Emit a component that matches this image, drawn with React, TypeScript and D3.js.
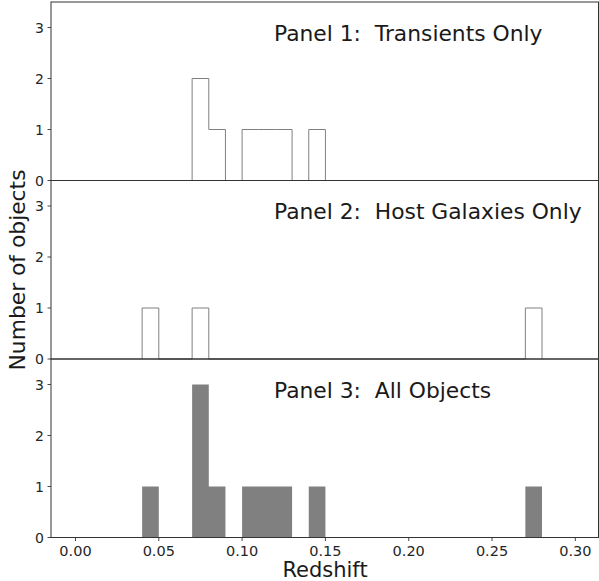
import React from "react";
import * as d3 from "d3";

const binEdges = [0.04, 0.05, 0.06, 0.07, 0.08, 0.09, 0.10, 0.11, 0.12, 0.13, 0.14, 0.15, 0.16, 0.17, 0.18, 0.19, 0.20, 0.21, 0.22, 0.23, 0.24, 0.25, 0.26, 0.27, 0.28];
const transientCounts = [0, 0, 0, 2, 1, 0, 1, 1, 1, 0, 1, 0, 0, 0, 0, 0, 0, 0, 0, 0, 0, 0, 0, 0];
const hostCounts = [1, 0, 0, 1, 0, 0, 0, 0, 0, 0, 0, 0, 0, 0, 0, 0, 0, 0, 0, 0, 0, 0, 0, 1];
const allCounts = [1, 0, 0, 3, 1, 0, 1, 1, 1, 0, 1, 0, 0, 0, 0, 0, 0, 0, 0, 0, 0, 0, 0, 1];
const panelTitles = ["Panel 1:  Transients Only", "Panel 2:  Host Galaxies Only", "Panel 3:  All Objects"];
const xTicks = [0.0, 0.05, 0.1, 0.15, 0.2, 0.25, 0.3];
const yTicks = [0, 1, 2, 3];
const xLabel = "Redshift";
const yLabel = "Number of objects";

const W = 599;
const H = 581;
const left = 51;
const right = 598.5;
const top0 = 2;
const panelH = 178.5;
const font = "DejaVu Sans";

export default function App() {
  const x = d3.scaleLinear().domain([-0.0147, 0.3139]).range([left, right]);
  const panels = [
    { counts: transientCounts, filled: false },
    { counts: hostCounts, filled: false },
    { counts: allCounts, filled: true },
  ];
  const bottom = top0 + panelH * 3;

  return (
    <svg width={W} height={H} style={{ position: "absolute", left: 0, top: 0 }} fontFamily={font}>
      <rect x={0} y={0} width={W} height={H} fill="#fff" />
      {panels.map((p, pi) => {
        const pt = top0 + pi * panelH;
        const y = d3.scaleLinear().domain([0, 3.5]).range([pt + panelH, pt]);
        const pts: [number, number][] = [[binEdges[0], 0]];
        p.counts.forEach((c, i) => {
          pts.push([binEdges[i], c]);
          pts.push([binEdges[i + 1], c]);
        });
        pts.push([binEdges[binEdges.length - 1], 0]);
        const line = d3.line<[number, number]>().x((d) => x(d[0])).y((d) => y(d[1]));
        const area = d3
          .area<[number, number]>()
          .x((d) => x(d[0]))
          .y0(y(0))
          .y1((d) => y(d[1]));
        return (
          <g key={pi}>
            {p.filled ? (
              <path d={area(pts) || ""} fill="#808080" stroke="none" />
            ) : (
              <path d={line(pts) || ""} fill="none" stroke="#808080" strokeWidth={1} />
            )}
            {yTicks.map((t) => (
              <g key={t}>
                <line x1={left - 3.5} x2={left} y1={y(t)} y2={y(t)} stroke="#333" strokeWidth={0.9} />
                <text x={44} y={y(t) + 5} textAnchor="end" fontSize={14} fill="#262626">
                  {t}
                </text>
              </g>
            ))}
            <text x={274} y={pt + 38.5} fontSize={21.8} fill="#1a1a1a" style={{ whiteSpace: "pre" }}>
              {panelTitles[pi]}
            </text>
            <rect x={left} y={pt} width={right - left} height={panelH} fill="none" stroke="#333" strokeWidth={1} />
          </g>
        );
      })}
      {xTicks.map((t) => (
        <g key={t}>
          <line x1={x(t)} x2={x(t)} y1={bottom} y2={bottom + 3.5} stroke="#333" strokeWidth={0.9} />
          <text x={x(t)} y={bottom + 18.5} textAnchor="middle" fontSize={14.5} fill="#262626">
            {d3.format(".2f")(t)}
          </text>
        </g>
      ))}
      <text x={325} y={576.5} textAnchor="middle" fontSize={21} fill="#1a1a1a">
        {xLabel}
      </text>
      <text transform={`translate(25,270) rotate(-90)`} textAnchor="middle" fontSize={21.8} fill="#1a1a1a">
        {yLabel}
      </text>
    </svg>
  );
}
